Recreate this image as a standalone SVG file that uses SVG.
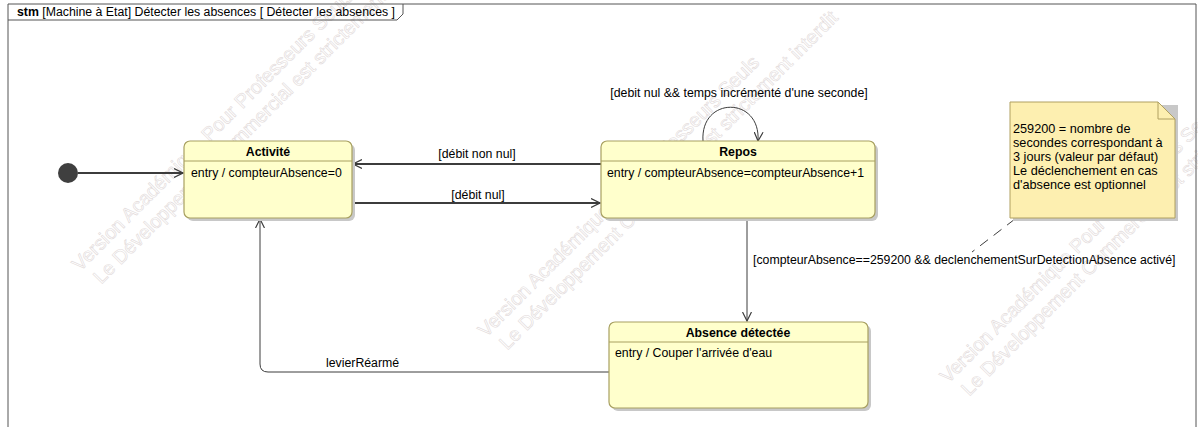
<svg xmlns="http://www.w3.org/2000/svg" width="1198" height="427" viewBox="0 0 1198 427">
<style>
text{font-family:"Liberation Sans",Arial,sans-serif;font-size:12.3px;fill:#000}
.title{font-weight:bold;text-anchor:middle}
.box{fill:#ffffcc;stroke:#a8a060;stroke-width:1.2}
.shadow{fill:#c8c8c8}
.sep{stroke:#a8a060;stroke-width:1}
.wm{font-size:19.5px;fill:none;stroke:#e2dada;stroke-width:0.6}
.note{font-size:12.7px}
.tr{fill:none;stroke:#3c3c3c;stroke-width:1}
.trb{fill:none;stroke:#3c3c3c;stroke-width:2}
</style>
<defs>
<marker id="arr" viewBox="0 0 10 10" refX="9" refY="5" markerWidth="10" markerHeight="10" markerUnits="userSpaceOnUse" orient="auto">
<path d="M0,0.5 L9,5 L0,9.5" fill="none" stroke="#3c3c3c" stroke-width="1.2"/>
</marker>
</defs>
<rect width="1198" height="427" fill="#fff"/>
<g id="watermarks">
<g transform="translate(80,272) rotate(-45)">
<text class="wm" x="0" y="0">Version Académique Pour Professeurs Seuls</text>
<text class="wm" x="6" y="24">Le Développement Commercial est strictement interdit</text>
</g>
<g transform="translate(486,338) rotate(-45)">
<text class="wm" x="0" y="0">Version Académique Pour Professeurs Seuls</text>
<text class="wm" x="6" y="24">Le Développement Commercial est strictement interdit</text>
</g>
<g transform="translate(948,384) rotate(-45)">
<text class="wm" x="0" y="0">Version Académique Pour Professeurs Seuls</text>
<text class="wm" x="6" y="24">Le Développement Commercial est strictement interdit</text>
</g>
</g>
<g id="frame">
<path d="M8,440 V4 H1196 V440" fill="none" stroke="#555" stroke-width="1"/>
<path d="M8,20 H397 L403,14 V4" fill="none" stroke="#555" stroke-width="1"/>
<text x="17" y="16"><tspan font-weight="bold">stm</tspan> [Machine à Etat] Détecter les absences [ Détecter les absences ]</text>
</g>
<g id="connectors">
<path class="trb" d="M78,173 H183" marker-end="url(#arr)"/>
<path class="trb" d="M601,164 H353" marker-end="url(#arr)"/>
<text x="477" y="158" text-anchor="middle">[débit non nul]</text>
<path class="trb" d="M353,203 H600" marker-end="url(#arr)"/>
<text x="478" y="199" text-anchor="middle">[débit nul]</text>
<path class="tr" d="M703,141 C700,96 761,96 758,141" marker-end="url(#arr)"/>
<text x="739" y="97" text-anchor="middle">[debit nul &amp;&amp; temps incrémenté d'une seconde]</text>
<path class="tr" d="M747,219 V321" marker-end="url(#arr)"/>
<text x="753" y="264">[compteurAbsence==259200 &amp;&amp; declenchementSurDetectionAbsence activé]</text>
<path class="tr" d="M609,372 H268 Q260,372 260,364 V219" marker-end="url(#arr)"/>
<text x="326" y="367">levierRéarmé</text>
<path d="M1015,219 L972,252" fill="none" stroke="#3c3c3c" stroke-width="1" stroke-dasharray="10,7"/>
</g>
<g id="initial">
<circle cx="68" cy="173" r="10" fill="#3f3f3f"/>
</g>
<g id="activite">
<rect class="shadow" x="187" y="144" width="168" height="77" rx="6"/>
<rect class="box" x="184" y="141" width="168" height="77" rx="6"/>
<line class="sep" x1="184" y1="161" x2="352" y2="161"/>
<text class="title" x="268" y="156">Activité</text>
<text x="191" y="177">entry / compteurAbsence=0</text>
</g>
<g id="repos">
<rect class="shadow" x="604" y="144" width="274" height="77" rx="6"/>
<rect class="box" x="601" y="141" width="274" height="77" rx="6"/>
<line class="sep" x1="601" y1="161" x2="875" y2="161"/>
<text class="title" x="738" y="156">Repos</text>
<text x="607" y="177">entry / compteurAbsence=compteurAbsence+1</text>
</g>
<g id="absence">
<rect class="shadow" x="612" y="325" width="259" height="86" rx="6"/>
<rect class="box" x="609" y="322" width="259" height="86" rx="6"/>
<line class="sep" x1="609" y1="342" x2="868" y2="342"/>
<text class="title" x="738" y="337">Absence détectée</text>
<text x="615" y="357">entry / Couper l'arrivée d'eau</text>
</g>
<g id="note">
<path d="M1013,105 H1178 V221 H1013 Z" fill="#c8c8c8"/>
<path d="M1010,102 H1158 L1175,119 V218 H1010 Z" fill="#fdefb0" stroke="#b0a060" stroke-width="1"/>
<path d="M1158,102 V119 H1175" fill="none" stroke="#b0a060" stroke-width="1"/>
<text class="note" x="1013" y="133">259200 = nombre de</text>
<text class="note" x="1013" y="147">secondes correspondant à</text>
<text class="note" x="1013" y="161">3 jours (valeur par défaut)</text>
<text class="note" x="1013" y="175">Le déclenchement en cas</text>
<text class="note" x="1013" y="189">d'absence est optionnel</text>
</g>
</svg>
